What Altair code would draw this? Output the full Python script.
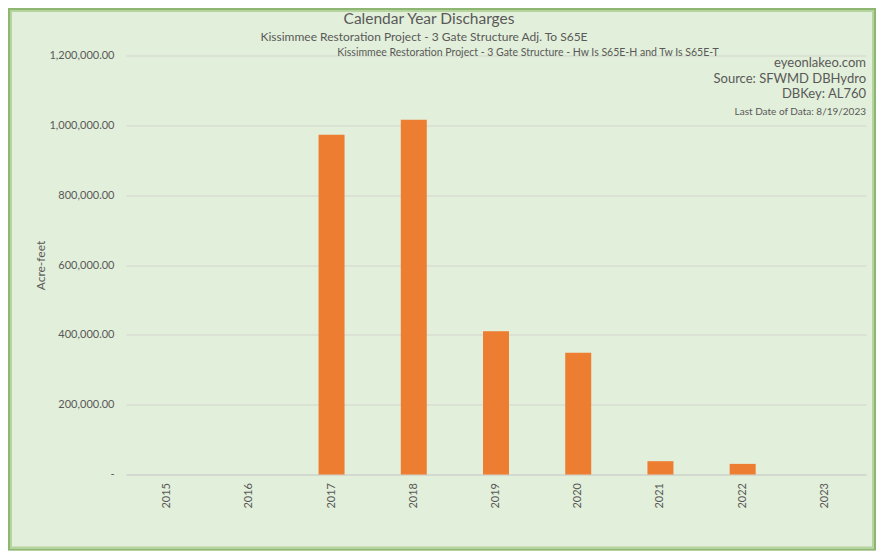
import altair as alt
import pandas as pd

years = ["2015", "2016", "2017", "2018", "2019", "2020", "2021", "2022", "2023"]
discharges = [0, 0, 973000, 1016000, 410600, 348400, 38100, 30400, 0]

title_lines = ["Calendar Year Discharges",
               "Kissimmee Restoration Project - 3 Gate Structure Adj. To S65E",
               "Kissimmee Restoration Project - 3 Gate Structure - Hw Is S65E-H and Tw Is S65E-T"]
notes = ["eyeonlakeo.com", "Source: SFWMD DBHydro", "DBKey: AL760", "Last Date of Data: 8/19/2023"]

df = pd.DataFrame({"Year": years, "Acre-feet": discharges})

FONT = "Lato"
GREY = "#595959"
W, H = 740, 419

bars = alt.Chart(df).mark_bar(color="#ED7D31", size=26).encode(
    x=alt.X("Year:N", sort=years, title=None,
            scale=alt.Scale(paddingInner=0.0, paddingOuter=0.0),
            axis=alt.Axis(labelAngle=270, labelFontSize=11, labelColor=GREY, labelFont=FONT,
                          labelPadding=8, ticks=False, domainColor="#D0D6CC", domainWidth=1.5,
                          labelAlign="right", labelBaseline="middle")),
    y=alt.Y("Acre-feet:Q", title="Acre-feet",
            scale=alt.Scale(domain=[0, 1200000], nice=False),
            axis=alt.Axis(values=[0, 200000, 400000, 600000, 800000, 1000000, 1200000],
                          labelExpr="datum.value == 0 ? '-' : format(datum.value, ',.2f')",
                          labelFontSize=11, labelColor=GREY, labelFont=FONT, labelPadding=12,
                          ticks=False, domain=False, gridColor="#D0D6CC", gridWidth=1.2,
                          titleFont=FONT, titleFontSize=12, titleColor=GREY, titleFontWeight="normal",
                          titleX=-86, titleY=H / 2, titleAngle=270, titleAlign="center",
                          titleBaseline="middle")),
)

def txt(s, x, y, size, align="center"):
    return alt.Chart(pd.DataFrame({"t": [s]})).mark_text(
        font=FONT, fontSize=size, color=GREY, align=align, baseline="middle"
    ).encode(text="t:N", x=alt.value(x), y=alt.value(y))

texts = [
    txt(title_lines[0], 303, -36.5, 15.5),
    txt(title_lines[1], 298, -18.5, 12),
    txt(title_lines[2], 402, -3, 10.5),
    txt(notes[0], 740, 7.8, 13, "right"),
    txt(notes[1], 740, 23.5, 13, "right"),
    txt(notes[2], 740, 38.8, 13, "right"),
    txt(notes[3], 740, 56.8, 10, "right"),
]

def frame(inset, width, color):
    return alt.Chart(pd.DataFrame({"a": [0]})).mark_rect(
        filled=False, stroke=color, strokeWidth=width
    ).encode(x=alt.value(-118 + inset), x2=alt.value(W + 10 - inset),
             y=alt.value(-47.5 + inset), y2=alt.value(H + 76 - inset))

border = [frame(1, 2, "#8DB672"), frame(3, 2, "#B5D49E")]

chart = alt.layer(bars, *texts, *border).properties(
    width=W, height=H,
    background="#E2EFDA",
    padding={"left": 118, "top": 47.5, "right": 10, "bottom": 76},
    autosize=alt.AutoSizeParams(type="none"),
).configure_view(stroke=None)

chart.save("out.html", embed_options={"renderer": "svg", "actions": False})
